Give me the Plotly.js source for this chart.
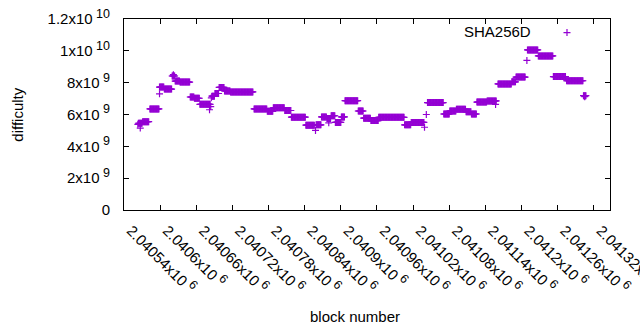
<!DOCTYPE html>
<html>
<head>
<meta charset="utf-8">
<script src="https://cdn.plot.ly/plotly-3.0.1.min.js"></script>
<style>html,body{margin:0;padding:0;background:#fff;}#chart{width:640px;height:330px;}</style>
</head>
<body>
<div id="chart"></div>
<script>
// Runs of constant difficulty (first block, last block, difficulty)
const runStart = [2040564, 2040571, 2040583, 2040599, 2040607, 2040620, 2040625, 2040633, 2040650, 2040657,
  2040666, 2040686, 2040691, 2040698, 2040707, 2040717, 2040756, 2040778, 2040788, 2040807,
  2040818, 2040842, 2040859, 2040868, 2040877, 2040884, 2040891, 2040901, 2040907, 2040929,
  2040938, 2040950, 2040963, 2041006, 2041017, 2041044, 2041071, 2041081, 2041092, 2041108,
  2041117, 2041126, 2041143, 2041161, 2041184, 2041191, 2041210, 2041228, 2041253, 2041275,
  2041303];
const runEnd = [2040570, 2040581, 2040598, 2040606, 2040619, 2040624, 2040632, 2040649, 2040656, 2040665,
  2040683, 2040690, 2040697, 2040706, 2040716, 2040754, 2040777, 2040787, 2040806, 2040817,
  2040841, 2040856, 2040867, 2040876, 2040883, 2040890, 2040900, 2040906, 2040928, 2040937,
  2040949, 2040962, 2041005, 2041016, 2041038, 2041070, 2041080, 2041091, 2041107, 2041116,
  2041125, 2041142, 2041158, 2041183, 2041190, 2041206, 2041227, 2041252, 2041273, 2041302,
  2041307];
const runDifficulty = [5.45e9, 5.55e9, 6.35e9, 7.72e9, 7.6e9, 8.42e9, 8.1e9, 8.04e9, 7.1e9, 7.02e9,
  6.64e9, 7.15e9, 7.32e9, 7.7e9, 7.48e9, 7.42e9, 6.35e9, 6.2e9, 6.42e9, 6.25e9,
  5.83e9, 5.33e9, 5.35e9, 5.85e9, 5.75e9, 5.92e9, 5.5e9, 5.85e9, 6.87e9, 6.22e9,
  5.77e9, 5.62e9, 5.82e9, 5.35e9, 5.5e9, 6.75e9, 6.03e9, 6.22e9, 6.33e9, 6.18e9,
  6.03e9, 6.78e9, 6.85e9, 7.92e9, 8.05e9, 8.35e9, 1.006e10, 9.68e9, 8.38e9, 8.12e9,
  7.18e9];
// Isolated blocks
const singleBlock = [2040563, 2040567, 2040599, 2040622, 2040682, 2040684, 2040685, 2040858, 2040880, 2040895,
  2041039, 2041042, 2041157, 2041209, 2041305];
const singleDifficulty = [5.38e9, 5.15e9, 7.3e9, 8.5e9, 6.3e9, 6.5e9, 7.05e9, 5.0e9, 5.48e9, 5.5e9,
  5.2e9, 6.0e9, 6.63e9, 9.4e9, 7.12e9];

const xTickVals = [2040540, 2040600, 2040660, 2040720, 2040780, 2040840, 2040900, 2040960, 2041020, 2041080, 2041140, 2041200, 2041260, 2041320];
const xTickText = ['2.04054', '2.0406', '2.04066', '2.04072', '2.04078', '2.04084', '2.0409', '2.04096', '2.04102', '2.04108', '2.04114', '2.0412', '2.04126', '2.04132'];
const xTickExp = '6';
const yTickVals = [0, 2e9, 4e9, 6e9, 8e9, 1e10, 1.2e10];
const yTickText = ['0', '2', '4', '6', '8', '1', '1.2'];
const yTickExp = ['', '9', '9', '9', '9', '10', '10'];

const seriesName = 'SHA256D';
const color = '#9400d3';

const xs = [], ys = [];
for (let i = 0; i < runStart.length; i++) {
  for (let b = runStart[i]; b <= runEnd[i]; b++) { xs.push(b); ys.push(runDifficulty[i]); }
}
for (let i = 0; i < singleBlock.length; i++) { xs.push(singleBlock[i]); ys.push(singleDifficulty[i]); }

const FONT = 'Liberation Sans, Arial, sans-serif';
const marker = {symbol: 'cross-thin', size: 5, color: color, line: {color: color, width: 1.2}};
const sci = (m, e) => m + 'x10<sup><span style="font-size:12.5px">&nbsp;' + e + '</span></sup>';

const data = [
  {x: xs, y: ys, type: 'scatter', mode: 'markers', marker: marker, name: seriesName, showlegend: false, hoverinfo: 'none'},
  {x: [0.9115], y: [0.929], xaxis: 'x2', yaxis: 'y2', type: 'scatter', mode: 'markers', marker: marker, showlegend: false, hoverinfo: 'none'}
];

const layout = {
  width: 640, height: 330,
  margin: {l: 124, r: 30, t: 19, b: 120},
  paper_bgcolor: '#fff', plot_bgcolor: '#fff',
  font: {family: FONT, size: 15, color: '#000'},
  showlegend: false,
  xaxis: {
    range: [2040540, 2041347], tickmode: 'array', tickvals: xTickVals,
    ticktext: xTickText.map(t => sci(t, xTickExp)),
    tickangle: 45, ticks: 'inside', ticklen: 5, tickcolor: '#000', tickwidth: 1,
    showline: true, linecolor: '#000', linewidth: 1, mirror: 'allticks',
    showgrid: false, zeroline: false, ticklabelstandoff: 5, ticklabelshift: 7,
    ticklabeloverflow: 'allow',
    tickfont: {family: FONT, size: 15, color: '#000'}
  },
  yaxis: {
    range: [0, 1.2e10], tickmode: 'array', tickvals: yTickVals,
    ticktext: yTickText.map((t, i) => yTickExp[i] ? sci(t, yTickExp[i]) : t),
    ticks: 'inside', ticklen: 5, tickcolor: '#000', tickwidth: 1,
    showline: true, linecolor: '#000', linewidth: 1, mirror: 'allticks',
    showgrid: false, zeroline: false, ticklabelstandoff: 10,
    ticklabeloverflow: 'allow',
    tickfont: {family: FONT, size: 15, color: '#000'}
  },
  xaxis2: {range: [0, 1], overlaying: 'x', visible: false, fixedrange: true},
  yaxis2: {range: [0, 1], overlaying: 'y', visible: false, fixedrange: true},
  annotations: [
    {text: 'block number', xref: 'paper', yref: 'paper', x: 0.4763, y: -0.555, xanchor: 'center', yanchor: 'middle', showarrow: false, font: {family: FONT, size: 15, color: '#000'}},
    {text: 'difficulty', xref: 'paper', yref: 'paper', x: -0.219, y: 0.497, xanchor: 'center', yanchor: 'middle', textangle: -90, showarrow: false, font: {family: FONT, size: 15, color: '#000'}},
    {text: seriesName, xref: 'paper', yref: 'paper', x: 0.8416, y: 0.932, xanchor: 'right', yanchor: 'middle', showarrow: false, font: {family: FONT, size: 15, color: '#000'}}
  ]
};

Plotly.newPlot('chart', data, layout, {staticPlot: true, displayModeBar: false});
</script>
</body>
</html>
